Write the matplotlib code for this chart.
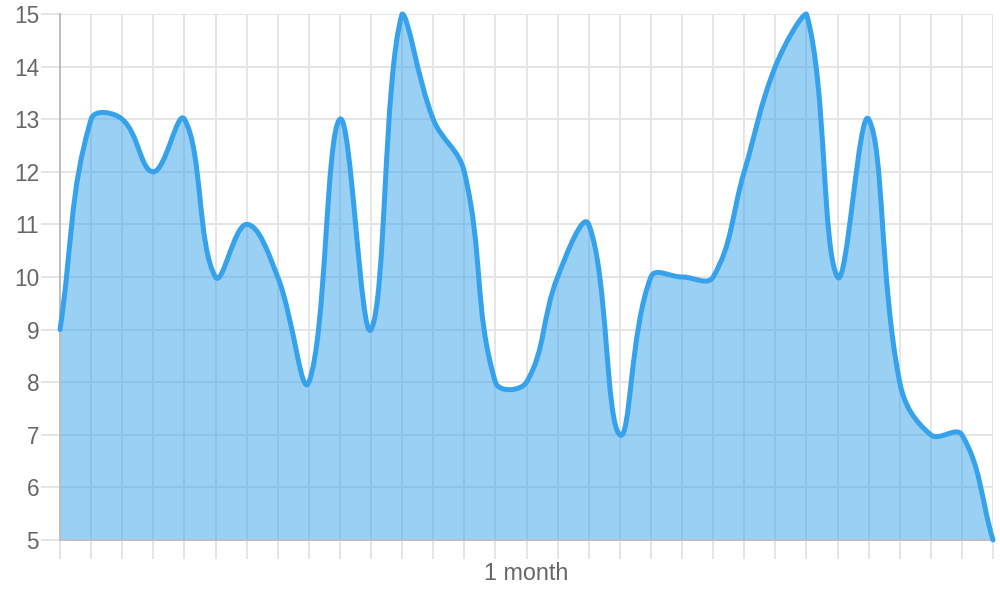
import numpy as np
import matplotlib.pyplot as plt
from matplotlib.path import Path
from matplotlib.patches import PathPatch

values = [9, 13, 13, 12, 13, 10, 11, 10, 8, 13, 9, 15, 13, 12, 8, 8,
          10, 11, 7, 10, 10, 10, 12, 14, 15, 10, 13, 8, 7, 7, 5]
x_label = '1 month'
y_ticks = list(range(5, 16))

line_color = '#36a2eb'
grid_color = '#e5e5e5'
axis_color = '#bdbdbd'
text_color = '#666666'
tension = 0.4

plt.rcParams['font.family'] = ['Liberation Sans', 'DejaVu Sans']

fig = plt.figure(figsize=(10, 6), dpi=100)
ax = fig.add_axes([0.06, 0.1, 0.933, 0.8767])
xs = np.arange(len(values))
ax.set_xlim(0, len(values) - 1)
ax.set_ylim(5, 15)

# chart.js style bezier control points, worked out in pixel space
pts = ax.transData.transform(np.column_stack([xs, values]))
x0, y0 = ax.transData.transform((0, 5))
x1, y1 = ax.transData.transform((len(values) - 1, 15))
n = len(pts)
cp_prev = np.zeros_like(pts)
cp_next = np.zeros_like(pts)
for i in range(n):
    p = pts[max(i - 1, 0)]
    c = pts[i]
    nx = pts[min(i + 1, n - 1)]
    d01 = np.hypot(*(c - p))
    d12 = np.hypot(*(nx - c))
    tot = d01 + d12
    s01 = d01 / tot if tot else 0
    s12 = d12 / tot if tot else 0
    cp_prev[i] = c - tension * s01 * (nx - p)
    cp_next[i] = c + tension * s12 * (nx - p)
for arr in (cp_prev, cp_next):
    arr[:, 0] = np.clip(arr[:, 0], x0, x1)
    arr[:, 1] = np.clip(arr[:, 1], y0, y1)

inv = ax.transData.inverted()
verts = [pts[0]]
codes = [Path.MOVETO]
for i in range(n - 1):
    verts += [cp_next[i], cp_prev[i + 1], pts[i + 1]]
    codes += [Path.CURVE4] * 3
verts = inv.transform(np.array(verts))

fill_verts = np.vstack([verts, [[len(values) - 1, 5], [0, 5], verts[0]]])
fill_codes = codes + [Path.LINETO, Path.LINETO, Path.CLOSEPOLY]
ax.add_patch(PathPatch(Path(fill_verts, fill_codes), facecolor=line_color,
                       alpha=0.5, edgecolor='none', zorder=2))
ax.add_patch(PathPatch(Path(verts, codes), facecolor='none', edgecolor=line_color,
                       lw=3.6, capstyle='round', joinstyle='round', zorder=3,
                       clip_on=False))

ax.set_xticks(xs)
ax.set_xticklabels([])
ax.set_yticks(y_ticks)
ax.grid(True, color=grid_color, lw=1.4, zorder=0)
ax.set_axisbelow(True)
ax.tick_params(axis='both', length=13.5, width=1.4, color=grid_color,
               labelsize=16.3, labelcolor=text_color, pad=1.5)
ax.xaxis.get_major_ticks()[0].tick1line.set_color(axis_color)
ax.set_xlabel(x_label, fontsize=16.8, color=text_color, labelpad=1)
for s in ['top', 'right']:
    ax.spines[s].set_visible(False)
for s in ['left', 'bottom']:
    ax.spines[s].set_color(axis_color)
    ax.spines[s].set_linewidth(1.4)

fig.savefig('out.png', dpi=100)
